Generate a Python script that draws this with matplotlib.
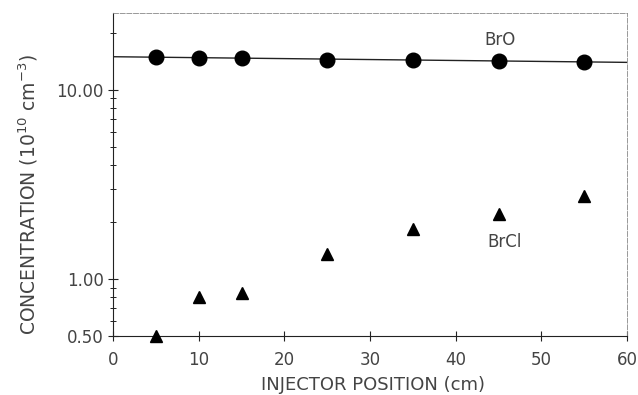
import numpy as np
import matplotlib
matplotlib.use("Agg")
import matplotlib.pyplot as plt
from matplotlib.ticker import FixedLocator, FixedFormatter, NullFormatter

# data
pos_bro = [5, 10, 15, 25, 35, 45, 55]
conc_bro = [14.9, 14.7, 14.7, 14.4, 14.4, 14.2, 14.0]
pos_brcl = [5, 10, 15, 25, 35, 45, 55]
conc_brcl = [0.50, 0.80, 0.84, 1.35, 1.83, 2.2, 2.73]

ytick_vals = [0.5, 1.0, 10.0]
ytick_labels = ["0.50", "1.00", "10.00"]
xtick_vals = [0, 10, 20, 30, 40, 50, 60]

plt.rcParams['font.family'] = ['DejaVu Sans']
ink = '#222222'
txt = '#444444'

W, H = 638, 395
fig = plt.figure(figsize=(W / 100, H / 100), dpi=100)
ax = fig.add_axes([113 / W, 1 - 336 / H, 514 / W, 323 / H])

# exponential fit through BrO points
coef = np.polyfit(pos_bro, np.log10(conc_bro), 1)
xf = np.array([0, 60])
ax.plot(xf, 10 ** np.polyval(coef, xf), color=ink, lw=1.0, zorder=2)

ax.plot(pos_bro, conc_bro, 'o', color='black', ms=10.5, zorder=3)
ax.plot(pos_brcl, conc_brcl, '^', color='black', ms=9, zorder=3, clip_on=False)

ax.set_yscale('log')
ax.set_xlim(0, 60)
ax.set_ylim(0.5, 25.4)

ax.yaxis.set_major_locator(FixedLocator(ytick_vals))
ax.yaxis.set_major_formatter(FixedFormatter(ytick_labels))
minor = [0.6, 0.7, 0.8, 0.9] + list(range(2, 10)) + [20]
ax.yaxis.set_minor_locator(FixedLocator(minor))
ax.yaxis.set_minor_formatter(NullFormatter())
ax.set_xticks(xtick_vals)

ax.tick_params(axis='both', which='major', direction='inout', length=7, width=0.8,
               colors=ink, labelsize=12, labelcolor=txt, pad=3)
ax.tick_params(axis='y', which='minor', direction='inout', length=5, width=0.7, colors=ink)
ax.tick_params(axis='x', pad=7)

for s in ['left', 'bottom']:
    ax.spines[s].set_color(ink)
    ax.spines[s].set_linewidth(0.8)
for s in ['top', 'right']:
    ax.spines[s].set_color('#888888')
    ax.spines[s].set_linewidth(0.6)
    ax.spines[s].set_linestyle((0, (6, 2)))

ax.text(45.2, 18.3, 'BrO', fontsize=12, color=txt, ha='center', va='center')
ax.text(45.7, 1.57, 'BrCl', fontsize=12, color=txt, ha='center', va='center')

fig.text(373 / W, 1 - 385 / H, 'INJECTOR POSITION (cm)', fontsize=13, color=txt,
         ha='center', va='center')
fig.text(28 / W, 1 - 195 / H, r'CONCENTRATION (10$^{10}$ cm$^{-3}$)', fontsize=13.5,
         color=txt, ha='center', va='center', rotation=90)

fig.savefig('out.png', dpi=100, facecolor='white')
